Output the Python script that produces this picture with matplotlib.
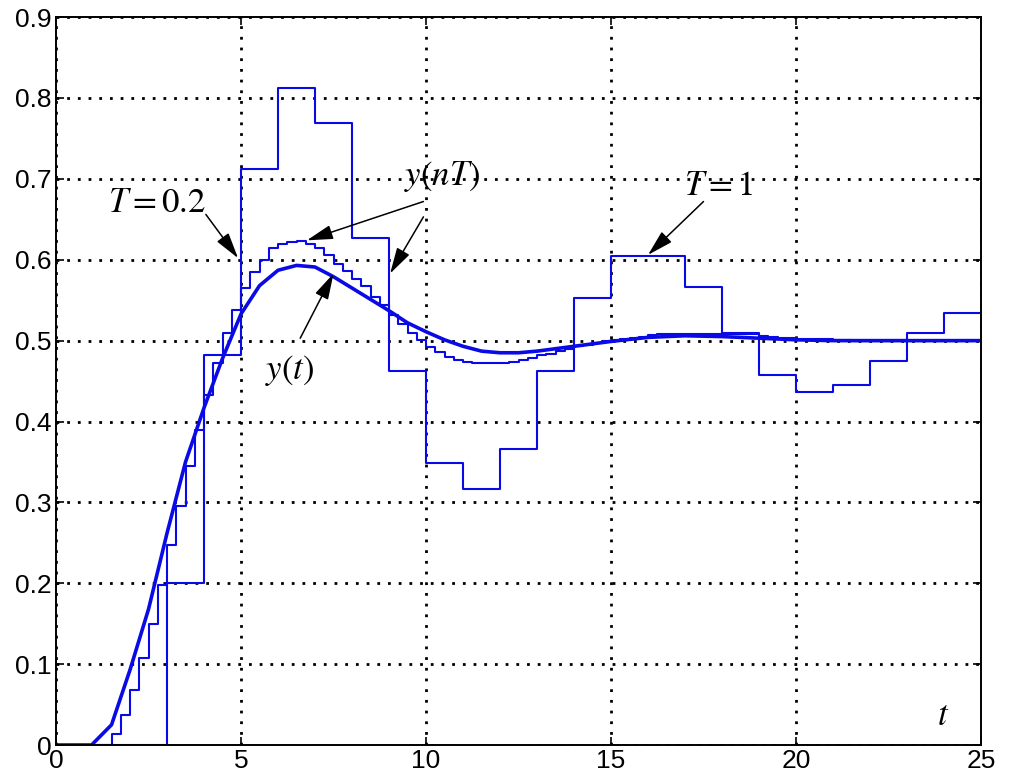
import numpy as np
import matplotlib
matplotlib.use("Agg")
import matplotlib.pyplot as plt

# ---- data ----
# T = 1 sampled response (value held on [k, k+1))
T1_values = [0, 0, 0, 0.200, 0.482, 0.712, 0.812, 0.769, 0.627, 0.463,
             0.349, 0.316, 0.366, 0.462, 0.553, 0.605, 0.605, 0.566, 0.509, 0.457,
             0.436, 0.445, 0.475, 0.509, 0.534]
T1_step = 1.0

# fine sampled response (value held on [0.25k, 0.25(k+1)))
Tf_values = [0, 0, 0, 0, 0, 0,
             0.014, 0.037, 0.068, 0.108, 0.150, 0.198, 0.247, 0.295, 0.345, 0.389,
             0.433, 0.472, 0.509, 0.538, 0.565, 0.585, 0.600, 0.614, 0.620, 0.622,
             0.623, 0.620, 0.614, 0.606, 0.595, 0.586, 0.576, 0.567, 0.554, 0.544,
             0.532, 0.521, 0.510, 0.501, 0.492, 0.486, 0.480, 0.476, 0.474,
             0.472, 0.472, 0.472, 0.472,
             0.474, 0.476, 0.479, 0.482, 0.484, 0.487, 0.490, 0.493, 0.495, 0.497,
             0.499, 0.501, 0.502, 0.503, 0.504, 0.507,
             0.508, 0.508, 0.508, 0.508, 0.508, 0.508, 0.508, 0.508, 0.508, 0.508, 0.508,
             0.506, 0.504,
             0.503, 0.503, 0.502, 0.502, 0.502, 0.502, 0.501, 0.501,
             0.500, 0.500, 0.500, 0.500, 0.500, 0.500, 0.500, 0.500, 0.500, 0.500,
             0.500, 0.500, 0.500, 0.500]
Tf_step = 0.25

# continuous response y(t)
yt_t = [0, 0.96, 1.5, 2.0, 2.5, 3.0, 3.5, 4.0, 4.5, 5.0, 5.5, 6.0, 6.5, 7.0, 7.5,
        8.0, 8.5, 9.0, 9.5, 10, 10.5, 11, 11.5, 12, 12.5, 13, 13.5, 14, 15, 16,
        17, 18, 19, 20, 21, 22, 25]
yt_v = [0, 0, 0.025, 0.093, 0.168, 0.262, 0.350, 0.417, 0.478, 0.533, 0.568,
        0.587, 0.593, 0.591, 0.579, 0.565, 0.551, 0.537, 0.522, 0.511, 0.501,
        0.493, 0.487, 0.485, 0.485, 0.487, 0.490, 0.493, 0.499, 0.504, 0.506,
        0.505, 0.503, 0.501, 0.500, 0.500, 0.500]

x_ticks = [0, 5, 10, 15, 20, 25]
y_ticks = [0, 0.1, 0.2, 0.3, 0.4, 0.5, 0.6, 0.7, 0.8, 0.9]
y_tick_labels = ["0", "0.1", "0.2", "0.3", "0.4", "0.5", "0.6", "0.7", "0.8", "0.9"]

# ---- figure ----
plt.rcParams['mathtext.fontset'] = 'stix'
fig = plt.figure(figsize=(10.17, 7.78), dpi=100)
ax = fig.add_axes([0.0551, 0.0424, 0.9095, 0.9356])

blue = '#0a0ae6'

t1 = np.arange(len(T1_values) + 1) * T1_step
ax.step(t1, T1_values + [T1_values[-1]], where='post', color=blue, lw=1.5)

tf = np.arange(len(Tf_values) + 1) * Tf_step
ax.step(tf, Tf_values + [Tf_values[-1]], where='post', color=blue, lw=1.5)

ax.plot(yt_t, yt_v, color=blue, lw=2.6)

ax.set_xlim(0, 25)
ax.set_ylim(0, 0.9)
ax.set_xticks(x_ticks)
ax.set_xticklabels([str(v) for v in x_ticks])
ax.set_yticks(y_ticks)
ax.set_yticklabels(y_tick_labels)

ax.grid(True, color='black', linestyle=(0, (1, 2.85)), linewidth=2.0)
ax.tick_params(direction='in', length=6, width=1.2, labelsize=19, pad=3,
               top=True, right=True)
for lab in ax.get_xticklabels() + ax.get_yticklabels():
    lab.set_family('Liberation Sans')
for s in ax.spines.values():
    s.set_linewidth(1.4)

arrow = dict(arrowstyle='-|>,head_length=0.8,head_width=0.22', color='black',
             lw=1.1, shrinkA=0, shrinkB=0, mutation_scale=20)

fs = 25
ax.text(2.73, 0.672, r'$T=0.2$', fontsize=fs, ha='center', va='center')
ax.annotate('', xy=(4.92, 0.602), xytext=(4.05, 0.656), arrowprops=arrow)

ax.text(10.45, 0.703, r'$y(nT)$', fontsize=fs, ha='center', va='center')
ax.annotate('', xy=(6.78, 0.624), xytext=(9.93, 0.672), arrowprops=arrow)
ax.annotate('', xy=(9.03, 0.583), xytext=(9.93, 0.653), arrowprops=arrow)

ax.text(6.32, 0.463, r'$y(t)$', fontsize=fs, ha='center', va='center')
ax.annotate('', xy=(7.5, 0.583), xytext=(6.6, 0.503), arrowprops=arrow)

ax.text(17.9, 0.693, r'$T=1$', fontsize=fs, ha='center', va='center')
ax.annotate('', xy=(16.0, 0.606), xytext=(17.5, 0.672), arrowprops=arrow)

ax.text(23.97, 0.037, r'$t$', fontsize=fs, ha='center', va='center')

fig.savefig('out.png', dpi=100)
